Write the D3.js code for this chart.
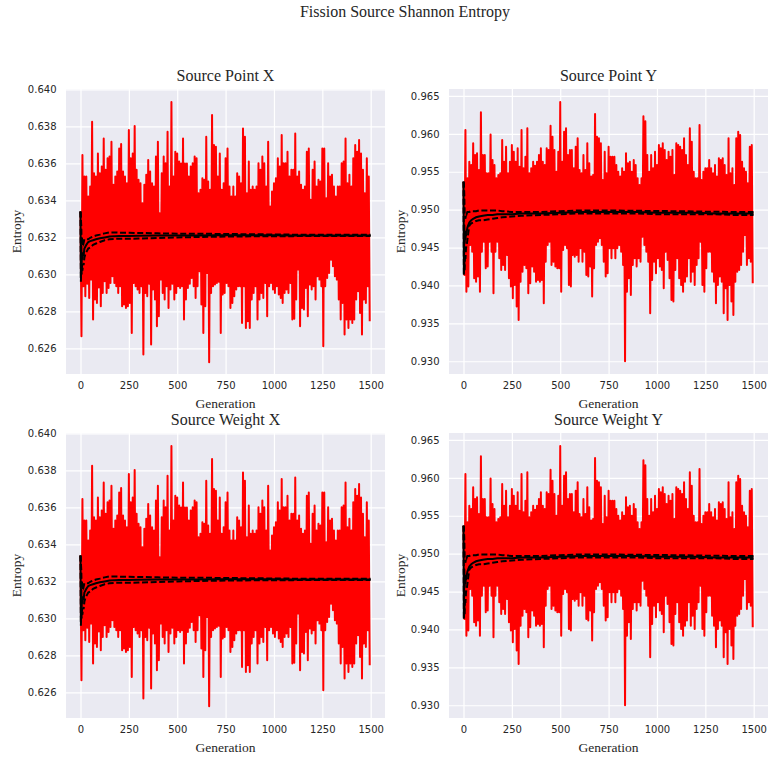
<!DOCTYPE html>
<html>
<head>
<meta charset="utf-8">
<script src="https://cdn.jsdelivr.net/npm/d3@7"></script>
<style>
  html, body { margin: 0; padding: 0; background: #ffffff; }
  svg { display: block; }
</style>
</head>
<body>
<svg id="fig" width="768" height="758"></svg>
<script>
// ---- data ----------------------------------------------------------------
const generationTicks = [0, 250, 500, 750, 1000, 1250, 1500];
const entropyTicksX = [0.626, 0.628, 0.630, 0.632, 0.634, 0.636, 0.638, 0.640];
const entropyTicksY = [0.930, 0.935, 0.940, 0.945, 0.950, 0.955, 0.960, 0.965];

// Per-generation entropy, stored as the upper and lower excursion of every
// block of ten generations (upper at generation 10*i, lower at 10*i + 5).
const entropyXHigh = [
  0.63340, 0.63646, 0.63529, 0.63529, 0.63421, 0.63475, 0.63825, 0.63547, 0.63529, 0.63654,
  0.63547, 0.63583, 0.63735, 0.63565, 0.63628, 0.63637, 0.63717, 0.63484, 0.63529, 0.63556,
  0.63681, 0.63705, 0.63556, 0.63529, 0.63493, 0.63780, 0.63628, 0.63654, 0.63802, 0.63565,
  0.63511, 0.63493, 0.63385, 0.63484, 0.63538, 0.63619, 0.63556, 0.63493, 0.63475, 0.63637,
  0.63717, 0.63331, 0.63547, 0.63637, 0.63601, 0.63771, 0.63475, 0.63932, 0.63529, 0.63663,
  0.63654, 0.63610, 0.63600, 0.63735, 0.63600, 0.63600, 0.63529, 0.63583, 0.63601, 0.63637,
  0.63628, 0.63439, 0.63457, 0.63520, 0.63511, 0.63744, 0.63502, 0.63457, 0.63861, 0.63699,
  0.63690, 0.63529, 0.63654, 0.63457, 0.63493, 0.63628, 0.63681, 0.63475, 0.63421, 0.63475,
  0.63421, 0.63547, 0.63529, 0.63493, 0.63789, 0.63744, 0.63439, 0.63610, 0.63457, 0.63475,
  0.63457, 0.63475, 0.63601, 0.63565, 0.63637, 0.63601, 0.63475, 0.63717, 0.63367, 0.63448,
  0.63493, 0.63520, 0.63628, 0.63583, 0.63753, 0.63601, 0.63601, 0.63663, 0.63529, 0.63565,
  0.63565, 0.63762, 0.63529, 0.63556, 0.63484, 0.63457, 0.63475, 0.63663, 0.63681, 0.63403,
  0.63565, 0.63610, 0.63475, 0.63511, 0.63502, 0.63681, 0.63681, 0.63412, 0.63601, 0.63529,
  0.63538, 0.63475, 0.63421, 0.63475, 0.63475, 0.63601, 0.63610, 0.63735, 0.63493, 0.63538,
  0.63475, 0.63628, 0.63699, 0.63663, 0.63726, 0.63654, 0.63565, 0.63439, 0.63628, 0.63529
];
const entropyXLow = [
  0.62666, 0.62936, 0.62882, 0.62950, 0.62873, 0.62972, 0.62756, 0.62864, 0.62846, 0.62930,
  0.62828, 0.62900, 0.62963, 0.62900, 0.62927, 0.62954, 0.62990, 0.62954, 0.62936, 0.62900,
  0.62936, 0.62828, 0.62837, 0.62819, 0.62828, 0.62846, 0.62684, 0.62954, 0.62936, 0.62918,
  0.62900, 0.62936, 0.62568, 0.62900, 0.62882, 0.62950, 0.62622, 0.62918, 0.62864, 0.62720,
  0.62774, 0.62972, 0.62900, 0.62864, 0.62936, 0.62819, 0.62918, 0.62950, 0.62864, 0.62900,
  0.62936, 0.62927, 0.62936, 0.62756, 0.62864, 0.62927, 0.62950, 0.62981, 0.62936, 0.62873,
  0.62936, 0.63017, 0.62837, 0.62684, 0.62828, 0.63008, 0.62525, 0.62900, 0.62936, 0.62945,
  0.62954, 0.62960, 0.62684, 0.62891, 0.62900, 0.62954, 0.62936, 0.62819, 0.62846, 0.62882,
  0.62918, 0.62936, 0.62936, 0.62738, 0.62936, 0.62711, 0.62747, 0.62711, 0.62864, 0.62900,
  0.62936, 0.62756, 0.62864, 0.62900, 0.62873, 0.62954, 0.62774, 0.62936, 0.62954, 0.62918,
  0.62900, 0.62936, 0.62891, 0.62873, 0.62846, 0.62900, 0.62918, 0.62900, 0.62954, 0.62756,
  0.62760, 0.62864, 0.63026, 0.62720, 0.62819, 0.62810, 0.62927, 0.62774, 0.62945, 0.62918,
  0.62936, 0.62864, 0.62990, 0.62972, 0.62936, 0.62612, 0.62936, 0.62981, 0.63008, 0.63080,
  0.63044, 0.62990, 0.62972, 0.62864, 0.62756, 0.62846, 0.62675, 0.62756, 0.62711, 0.62756,
  0.62738, 0.62756, 0.62864, 0.62909, 0.62792, 0.62675, 0.62864, 0.62846, 0.62936, 0.62747
];
const entropyYHigh = [
  0.95370, 0.96051, 0.95414, 0.95633, 0.95590, 0.95876, 0.95721, 0.95744, 0.95524, 0.96285,
  0.95721, 0.95721, 0.95480, 0.95480, 0.95993, 0.95655, 0.95590, 0.95414, 0.95458, 0.95480,
  0.95919, 0.95633, 0.95831, 0.95480, 0.95633, 0.95853, 0.95765, 0.95633, 0.95810, 0.95567,
  0.96051, 0.95546, 0.95699, 0.96074, 0.95480, 0.95546, 0.95633, 0.95580, 0.95633, 0.95721,
  0.95810, 0.95633, 0.95590, 0.95810, 0.95787, 0.96108, 0.95963, 0.95787, 0.95501, 0.95765,
  0.96420, 0.95633, 0.96029, 0.96074, 0.95721, 0.95787, 0.95787, 0.95546, 0.95831, 0.95941,
  0.95524, 0.95480, 0.95721, 0.95524, 0.95876, 0.95612, 0.95436, 0.95458, 0.96261, 0.95963,
  0.95941, 0.95876, 0.95392, 0.95765, 0.95480, 0.95831, 0.95699, 0.95699, 0.95699, 0.95590,
  0.95501, 0.95436, 0.95546, 0.95501, 0.95744, 0.95612, 0.95633, 0.95501, 0.95655, 0.95590,
  0.95414, 0.95326, 0.95414, 0.96232, 0.96166, 0.95721, 0.95501, 0.95721, 0.95546, 0.95765,
  0.95590, 0.95853, 0.95810, 0.95876, 0.95787, 0.95655, 0.95765, 0.95699, 0.95787, 0.95458,
  0.95876, 0.95853, 0.95831, 0.95787, 0.95941, 0.95721, 0.95590, 0.96074, 0.95897, 0.95501,
  0.95414, 0.95414, 0.96117, 0.95392, 0.95501, 0.95546, 0.95546, 0.95655, 0.95546, 0.95480,
  0.95590, 0.95436, 0.95677, 0.95655, 0.95677, 0.95590, 0.95458, 0.95941, 0.95480, 0.95546,
  0.95326, 0.95941, 0.96029, 0.95985, 0.95633, 0.95546, 0.95501, 0.95348, 0.95831, 0.95853
];
const entropyYLow = [
  0.94139, 0.93918, 0.93985, 0.94534, 0.94446, 0.94095, 0.94050, 0.94117, 0.93918, 0.94446,
  0.94578, 0.94227, 0.94249, 0.94578, 0.94446, 0.93897, 0.94446, 0.94578, 0.94359, 0.94205,
  0.94271, 0.94205, 0.94402, 0.94095, 0.93985, 0.93831, 0.94007, 0.93721, 0.93545, 0.94050,
  0.94182, 0.94271, 0.94227, 0.93897, 0.94029, 0.94249, 0.94182, 0.94050, 0.94073, 0.94050,
  0.94073, 0.93765, 0.94314, 0.94534, 0.94578, 0.94271, 0.94314, 0.94249, 0.94227, 0.94227,
  0.93918, 0.94468, 0.94534, 0.94490, 0.94007, 0.93985, 0.94402, 0.94380, 0.94402, 0.94314,
  0.94490, 0.94314, 0.94446, 0.94139, 0.94117, 0.94249, 0.93853, 0.94227, 0.94534, 0.94578,
  0.94622, 0.94534, 0.94314, 0.94117, 0.94161, 0.94490, 0.94359, 0.94490, 0.94359, 0.94490,
  0.94534, 0.94446, 0.94271, 0.93000, 0.93918, 0.94095, 0.93875, 0.94271, 0.94359, 0.94249,
  0.94359, 0.94314, 0.94644, 0.94534, 0.94446, 0.94314, 0.93633, 0.94073, 0.94314, 0.94161,
  0.94359, 0.94249, 0.94205, 0.93963, 0.94446, 0.94337, 0.94095, 0.93809, 0.93787, 0.94205,
  0.94359, 0.94095, 0.94007, 0.93918, 0.94050, 0.94117, 0.94359, 0.94050, 0.94182, 0.94007,
  0.94271, 0.94359, 0.94578, 0.94007, 0.93918, 0.94227, 0.94446, 0.94446, 0.94182, 0.94050,
  0.93765, 0.94007, 0.94117, 0.94050, 0.93633, 0.93963, 0.93545, 0.94007, 0.93787, 0.93611,
  0.94050, 0.94182, 0.94205, 0.94271, 0.94446, 0.94666, 0.94271, 0.94359, 0.94314, 0.94029
];

// Running average and its uncertainty band
const averageGenerations = [0, 2, 4, 6, 8, 10, 13, 16, 20, 25, 30, 40, 50, 65, 80, 100, 125, 150,
  175, 200, 250, 300, 400, 500, 600, 700, 800, 900, 1000, 1100, 1200, 1300, 1400, 1499];
const averageX = [0.6334, 0.6298, 0.6316, 0.6306, 0.6312, 0.6308, 0.6312, 0.6310, 0.6314, 0.6315,
  0.6316, 0.63175, 0.6318, 0.63185, 0.6319, 0.63195, 0.6320, 0.63205, 0.63207, 0.63208, 0.63208, 0.63209,
  0.6321, 0.6321, 0.63211, 0.63212, 0.63212, 0.63212, 0.63212, 0.63211, 0.63211, 0.63211, 0.63211, 0.63211];
const averageXUpper = [0.6334, 0.6330, 0.6326, 0.6316, 0.6320, 0.6316, 0.6318, 0.6317, 0.6319, 0.6319,
  0.6319, 0.6319, 0.63198, 0.63205, 0.6321, 0.63215, 0.63222, 0.63227, 0.63227, 0.63226, 0.63225, 0.63224,
  0.63222, 0.6322, 0.6322, 0.63219, 0.63218, 0.63217, 0.63216, 0.63215, 0.63215, 0.63214, 0.63214, 0.63214];
const averageXLower = [0.6334, 0.6296, 0.6306, 0.6300, 0.6305, 0.6302, 0.6306, 0.6305, 0.6309, 0.6311,
  0.6312, 0.6314, 0.63145, 0.6316, 0.63167, 0.63175, 0.63185, 0.6319, 0.63192, 0.63193, 0.63193, 0.63194,
  0.63197, 0.6320, 0.63202, 0.63204, 0.63205, 0.63206, 0.63207, 0.63207, 0.63208, 0.63208, 0.63208, 0.63208];
const averageY = [0.9537, 0.9414, 0.9480, 0.9455, 0.9468, 0.9460, 0.9472, 0.9470, 0.9476, 0.9480,
  0.9483, 0.9486, 0.9488, 0.9490, 0.9491, 0.9492, 0.9493, 0.9493, 0.9494, 0.9494, 0.9494, 0.9495,
  0.9495, 0.9496, 0.9497, 0.9497, 0.9497, 0.9497, 0.9496, 0.9496, 0.9496, 0.9495, 0.9495, 0.9495];
const averageYUpper = [0.9537, 0.9535, 0.9520, 0.9495, 0.9492, 0.9488, 0.9495, 0.9494, 0.9497, 0.9497,
  0.9497, 0.9498, 0.9498, 0.9498, 0.9499, 0.9499, 0.9499, 0.9499, 0.9499, 0.9498, 0.9497, 0.9497,
  0.9497, 0.9498, 0.9499, 0.9499, 0.94988, 0.94985, 0.94982, 0.9498, 0.94976, 0.94972, 0.9497, 0.94968];
const averageYLower = [0.9537, 0.9414, 0.9435, 0.9420, 0.9440, 0.9435, 0.9450, 0.9452, 0.9460, 0.9470,
  0.9479, 0.9482, 0.9483, 0.9485, 0.9486, 0.9486, 0.9487, 0.9488, 0.9489, 0.9490, 0.9491, 0.9492,
  0.9493, 0.9494, 0.9495, 0.9495, 0.9495, 0.9495, 0.9494, 0.9494, 0.9494, 0.9494, 0.9493, 0.9493];

const panelTitles = ["Source Point X", "Source Point Y", "Source Weight X", "Source Weight Y"];

// ---- helpers ---------------------------------------------------------------
function toSeries(high, low) {
  const out = [];
  high.forEach((h, i) => {
    out.push({ g: 10 * i, v: h });
    out.push({ g: 10 * i + 5, v: low[i] });
  });
  return out;
}
function toAverage(vals) {
  return averageGenerations.map((g, i) => ({ g, v: vals[i] }));
}

const seriesX = toSeries(entropyXHigh, entropyXLow);
const seriesY = toSeries(entropyYHigh, entropyYLow);

const panels = [
  { title: panelTitles[0], series: seriesX, avg: [averageX, averageXUpper, averageXLower],
    ticks: entropyTicksX, domain: [0.62462, 0.64002], left: 66, top: 89, labelX: 20.5 },
  { title: panelTitles[1], series: seriesY, avg: [averageY, averageYUpper, averageYLower],
    ticks: entropyTicksY, domain: [0.92832, 0.96592], left: 449, top: 89, labelX: 404.5 },
  { title: panelTitles[2], series: seriesX, avg: [averageX, averageXUpper, averageXLower],
    ticks: entropyTicksX, domain: [0.62462, 0.64002], left: 66, top: 433, labelX: 20.5 },
  { title: panelTitles[3], series: seriesY, avg: [averageY, averageYUpper, averageYLower],
    ticks: entropyTicksY, domain: [0.92832, 0.96592], left: 449, top: 433, labelX: 404.5 }
];

const W = 319, H = 285;
const serif = "'Liberation Serif', 'Times New Roman', serif";
const sans = "'DejaVu Sans', sans-serif";
const ink = "#262626";

const svg = d3.select("#fig");

svg.append("text")
  .attr("x", 405).attr("y", 17)
  .attr("text-anchor", "middle")
  .style("font-family", serif).style("font-size", "16px").attr("fill", ink)
  .text("Fission Source Shannon Entropy");

panels.forEach(p => {
  const x = d3.scaleLinear().domain([-74.95, 1573.95]).range([0, W]);
  const y = d3.scaleLinear().domain(p.domain).range([H, 0]);
  const g = svg.append("g").attr("transform", `translate(${p.left},${p.top})`);

  g.append("rect").attr("width", W).attr("height", H).attr("fill", "#EAEAF2");

  const xAxis = g.append("g").attr("transform", `translate(0,${H})`)
    .call(d3.axisBottom(x).tickValues(generationTicks).tickSize(-H).tickPadding(7.5).tickFormat(d3.format("d")));
  const yAxis = g.append("g")
    .call(d3.axisLeft(y).tickValues(p.ticks).tickSize(-W).tickPadding(9.5).tickFormat(d3.format(".3f")));
  [xAxis, yAxis].forEach(a => {
    a.select(".domain").remove();
    a.selectAll(".tick line").attr("stroke", "#ffffff").attr("stroke-width", 1.2);
    a.selectAll(".tick text").attr("fill", ink).style("font-family", sans).style("font-size", "10px");
  });

  const line = d3.line().x(d => x(d.g)).y(d => y(d.v));

  g.append("path").datum(p.series)
    .attr("d", line).attr("fill", "none")
    .attr("stroke", "#ff0000").attr("stroke-width", 2).attr("stroke-linejoin", "round");

  const [mid, hi, lo] = p.avg;
  g.append("path").datum(toAverage(hi)).attr("d", line).attr("fill", "none")
    .attr("stroke", "#000").attr("stroke-width", 2).attr("stroke-dasharray", "6,2.6");
  g.append("path").datum(toAverage(lo)).attr("d", line).attr("fill", "none")
    .attr("stroke", "#000").attr("stroke-width", 2).attr("stroke-dasharray", "6,2.6");
  g.append("path").datum(toAverage(mid)).attr("d", line).attr("fill", "none")
    .attr("stroke", "#000").attr("stroke-width", 2);

  g.append("text")
    .attr("x", W / 2).attr("y", -8)
    .attr("text-anchor", "middle")
    .style("font-family", serif).style("font-size", "16px").attr("fill", ink)
    .text(p.title);

  g.append("text")
    .attr("x", W / 2).attr("y", H + 34)
    .attr("text-anchor", "middle")
    .style("font-family", serif).style("font-size", "13.5px").attr("fill", ink)
    .text("Generation");

  svg.append("text")
    .attr("transform", `translate(${p.labelX},${p.top + H / 2}) rotate(-90)`)
    .attr("text-anchor", "middle")
    .style("font-family", serif).style("font-size", "13.5px").attr("fill", ink)
    .text("Entropy");
});
</script>
</body>
</html>
